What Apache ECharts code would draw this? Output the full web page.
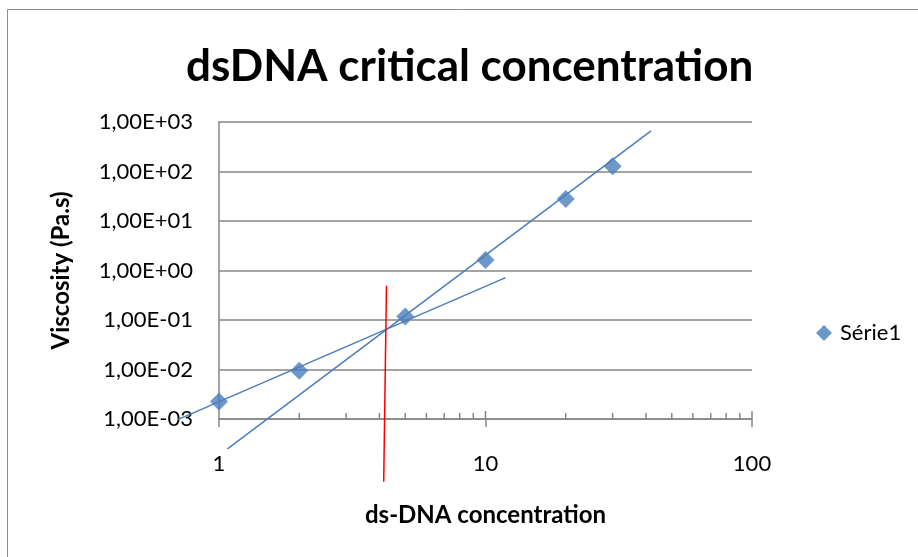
<!DOCTYPE html>
<html><head><meta charset="utf-8">
<script src="https://cdn.jsdelivr.net/npm/echarts@6/dist/echarts.min.js"></script>
<style>html,body{margin:0;padding:0;background:#fff}#c{width:918px;height:557px}</style>
</head><body><div id="c"></div>
<script>
// ---- data ----
const concentration = [1, 2, 5, 10, 20, 30];
const viscosity = [0.00226, 0.0094, 0.117, 1.63, 27.7, 128];
// trend line end points
const dilutedTrendX = [0.70, 11.9];
const dilutedTrendY = [0.00097, 0.716];
const entangledTrendX = [1.076, 41.8];
const entangledTrendY = [0.000248, 659];
// red vertical marker (critical concentration)
const criticalX = [4.25, 4.15];
const criticalY = [0.49, 0.000054];
// axis ticks
const xMajorTicks = [10, 100];
const xMinorTicks = [2, 3, 4, 5, 6, 7, 8, 9, 20, 30, 40, 50, 60, 70, 80, 90];
const yTickValues = [0.001, 0.01, 0.1, 1, 10, 100, 1000];
const yTickLabels = ['1,00E-03', '1,00E-02', '1,00E-01', '1,00E+00', '1,00E+01', '1,00E+02', '1,00E+03'];
const xMin = 1, xMax = 100, yMin = 0.001, yMax = 1000;

const FONT = 'Lato';
const BLUE = '#4a7ebb';
const GRID = '#868686';

const zip = (a, b) => a.map((v, i) => [v, b[i]]);

function segmentSeries(name, xs, ys, color, z) {
  return {
    name: name, type: 'custom', silent: true, clip: false, z: z,
    data: [[xs[0], ys[0], xs[1], ys[1]]],
    encode: {x: [0, 2], y: [1, 3]},
    renderItem: (params, api) => {
      const a = api.coord([api.value(0), api.value(1)]);
      const b = api.coord([api.value(2), api.value(3)]);
      return {type: 'line', shape: {x1: a[0], y1: a[1], x2: b[0], y2: b[1]},
              style: {stroke: color, lineWidth: 1.5}};
    }
  };
}

const chart = echarts.init(document.getElementById('c'), null, {renderer: 'canvas'});
chart.setOption({
  animation: false,
  backgroundColor: '#fff',
  textStyle: {fontFamily: FONT},
  title: {
    text: 'dsDNA critical concentration',
    left: 186, top: 45, padding: 0,
    textStyle: {fontFamily: FONT, fontWeight: 'bold', fontSize: 44, color: '#000'}
  },
  graphic: [{
    type: 'rect', silent: true, z: -1,
    shape: {x: 7.5, y: 9.5, width: 1000, height: 1000},
    style: {fill: null, stroke: '#8c8c8c', lineWidth: 1}
  }],
  legend: {
    data: [{name: 'Série1', icon: 'diamond'}],
    left: 811, top: 317, itemWidth: 16, itemHeight: 16, itemGap: 5,
    textStyle: {fontFamily: FONT, fontSize: 22, color: '#000', padding: [0, 0, 0, 3]}
  },
  grid: {left: 219, right: 166, top: 122, bottom: 138, containLabel: false},
  xAxis: {
    type: 'log', logBase: 10, min: xMin, max: xMax,
    name: 'ds-DNA concentration', nameLocation: 'middle', nameGap: 84, nameMoveOverlap: false,
    nameTextStyle: {fontFamily: FONT, fontWeight: 'bold', fontSize: 24, color: '#000'},
    axisLine: {show: true, lineStyle: {color: GRID, width: 1.5}},
    axisTick: {show: true, inside: false, length: 8, lineStyle: {color: GRID, width: 1.5}},
    axisLabel: {margin: 34, fontFamily: FONT, fontSize: 22, color: '#000'},
    splitLine: {show: false}
  },
  yAxis: {
    type: 'log', logBase: 10, min: yMin, max: yMax,
    name: 'Viscosity (Pa.s)', nameLocation: 'middle', nameGap: 146, nameMoveOverlap: false,
    nameTextStyle: {fontFamily: FONT, fontWeight: 'bold', fontSize: 24, color: '#000'},
    axisLine: {show: true, lineStyle: {color: GRID, width: 1.5}},
    axisTick: {show: false},
    axisLabel: {
      margin: 26, fontFamily: FONT, fontSize: 22, color: '#000',
      formatter: v => {
        let best = 0;
        yTickValues.forEach((t, i) => { if (Math.abs(Math.log10(t) - Math.log10(v)) < Math.abs(Math.log10(yTickValues[best]) - Math.log10(v))) best = i; });
        return yTickLabels[best];
      }
    },
    splitLine: {show: true, lineStyle: {color: GRID, width: 1.5}}
  },
  series: [
    {
      type: 'custom', silent: true, clip: false, z: 1,
      data: xMinorTicks.map(v => [v, yMin, 6]).concat(xMajorTicks.map(v => [v, yMin, 8])),
      encode: {x: 0, y: 1},
      renderItem: (params, api) => {
        const p = api.coord([api.value(0), api.value(1)]);
        return {type: 'line', shape: {x1: p[0], y1: p[1], x2: p[0], y2: p[1] - api.value(2)},
                style: {stroke: GRID, lineWidth: 1.5}};
      }
    },
    segmentSeries('dilutedTrend', dilutedTrendX, dilutedTrendY, BLUE, 3),
    segmentSeries('entangledTrend', entangledTrendX, entangledTrendY, BLUE, 3),
    segmentSeries('critical', criticalX, criticalY, '#ff0000', 3),
    {
      name: 'Série1', type: 'scatter', symbol: 'diamond', symbolSize: 18, z: 5,
      data: zip(concentration, viscosity),
      itemStyle: {color: BLUE}
    }
  ]
});
</script>
</body></html>
